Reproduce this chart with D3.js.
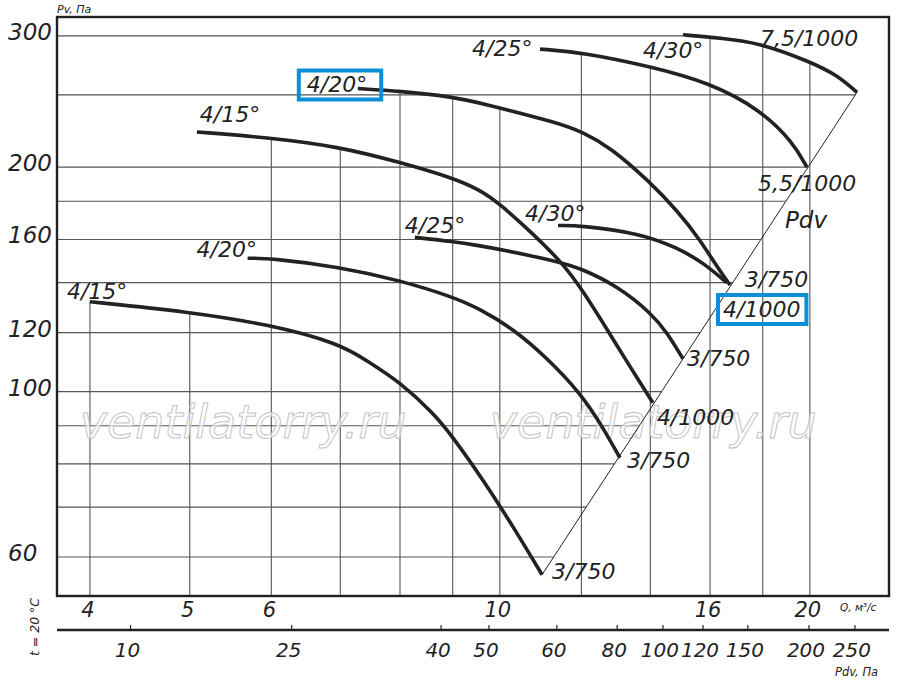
<!DOCTYPE html>
<html>
<head>
<meta charset="utf-8">
<script src="https://cdn.jsdelivr.net/npm/d3@7/dist/d3.min.js"></script>
<style>
body { margin: 0; background: #fff; }
text { font-family: 'DejaVu Sans', sans-serif; font-style: italic; fill: #222; }
</style>
</head>
<body>
<div class="canvas"></div>
<script>
// curve names (impeller / blade angle) and motor (kW / rpm)
const curveNames = ['4/15°', '4/20°', '4/25°', '4/30°', '4/15°', '4/20°', '4/25°', '4/30°']
const motors = ['3/750', '3/750', '3/750', '3/750', '4/1000', '4/1000', '5,5/1000', '7,5/1000']

// Q, m3/s of each curve
const curveQ = [
    [4.00, 4.98, 5.98, 6.99, 7.43, 8.00, 8.61, 9.00, 9.63, 10.39, 10.99],
    [5.69, 5.98, 6.99, 8.00, 9.00, 9.56, 10.30, 11.11, 11.96, 12.51, 13.08],
    [8.27, 9.00, 9.56, 10.0, 11.44, 12.01, 12.99, 14.05, 14.53, 15.06],
    [11.39, 12.01, 13.68, 14.86, 15.75, 16.61],
    [5.08, 5.98, 6.99, 8.00, 9.00, 9.56, 10.0, 10.77, 11.49, 12.01, 12.91, 13.38, 14.08],
    [7.28, 8.00, 9.00, 9.56, 11.44, 12.01, 12.79, 13.99, 14.86, 15.64, 16.25, 16.73],
    [10.94, 12.04, 13.99, 16.0, 17.89, 19.26, 19.87],
    [15.06, 16.36, 17.89, 20.0, 21.24, 22.22]
]
// Pv, Pa of each curve
const curveP = [
    [132, 128, 123, 116, 110, 103, 93.7, 87.0, 76.2, 64.7, 56.8],
    [151, 151, 147, 141, 134, 129.2, 121.4, 111, 99.7, 90.9, 81.5],
    [161, 159, 156.9, 155.2, 149.3, 146.1, 138.7, 127.2, 120.0, 110.7],
    [167, 167, 163, 156, 149, 140],
    [223, 219, 213, 203, 193.5, 186.5, 178.6, 162.8, 149, 137.4, 117, 108, 96.6],
    [255, 253, 248.5, 244, 229, 223, 213, 191, 175, 160, 147, 139],
    [288, 285, 273, 259.5, 239, 216, 200],
    [301, 298, 293.6, 277, 266, 252]
]

const qTicks = [4, 5, 6, 10, 16, 20]
const qGrid = [4, 5, 6, 7, 8, 9, 10, 12, 14, 16, 18, 20]
const pTicks = [60, 100, 120, 160, 200, 300]
const pGrid = [60, 70, 80, 90, 100, 120, 140, 160, 180, 200, 250, 300]
const pdvTicks = [10, 25, 40, 50, 60, 80, 100, 120, 150, 200, 250]
// Q value at which each Pdv tick sits on the second scale
const pdvAtQ = [4.38, 6.28, 8.77, 9.76, 11.36, 13.0, 14.4, 15.75, 17.41, 19.96, 22.12]
const boxedCurve = 5
const watermark = 'ventilatorry.ru'

const W = 900, H = 684
const margins = { top: 17, right: 11, bottom: 88, left: 57 }
const gWidth = W - margins.left - margins.right
const gHeight = H - margins.top - margins.bottom

const svg = d3.select('.canvas').append('svg').attr('width', W).attr('height', H)
const graph = svg.append('g').attr('transform', `translate(${margins.left}, ${margins.top})`)

const x = d3.scaleLog().domain([3.716, 23.87]).range([0, gWidth])
const y = d3.scaleLog().domain([53.2, 318]).range([gHeight, 0])

const curves = curveQ.map((qs, i) => qs.map((q, j) => ({ q: q, p: curveP[i][j] })))

// Pdv line joins the ends of the lowest and highest curves
const dA = curves[0][curves[0].length - 1]
const dB = curves[7][curves[7].length - 1]
const diagQ = p => Math.exp(Math.log(dA.q) + (Math.log(p) - Math.log(dA.p)) * (Math.log(dB.q) - Math.log(dA.q)) / (Math.log(dB.p) - Math.log(dA.p)))

// top of all curves at a given Q
function envelope(q) {
    let best = null
    curves.forEach(c => {
        if (q < c[0].q - 1e-6 || q > c[c.length - 1].q) return
        for (let j = 0; j < c.length - 1; j++) {
            if (q >= c[j].q - 1e-6 && q <= c[j + 1].q) {
                const t = (Math.log(q) - Math.log(c[j].q)) / (Math.log(c[j + 1].q) - Math.log(c[j].q))
                const p = Math.exp(Math.log(c[j].p) + t * (Math.log(c[j + 1].p) - Math.log(c[j].p)))
                if (best === null || p > best) best = p
                break
            }
        }
    })
    return best
}

// grid
graph.append('g').selectAll('line').data(pGrid).enter().append('line')
    .attr('x1', 0)
    .attr('x2', d => d <= dB.p ? x(diagQ(d)) : x(curves[7][0].q))
    .attr('y1', d => y(d)).attr('y2', d => y(d))
    .attr('stroke', '#555').attr('stroke-width', 1.1)

graph.append('g').selectAll('line').data(qGrid).enter().append('line')
    .attr('x1', d => x(d)).attr('x2', d => x(d))
    .attr('y1', gHeight)
    .attr('y2', d => envelope(d) ? y(envelope(d)) : 0)
    .attr('stroke', '#555').attr('stroke-width', 1.1)

// watermark
graph.append('g').selectAll('text').data([3.91, 9.78]).enter().append('text')
    .attr('x', d => x(d))
    .attr('y', y(88) + 5)
    .attr('font-size', 46)
    .style('fill', '#fff').style('fill-opacity', 0.6)
    .attr('stroke', '#c4c4c4').attr('stroke-width', 1)
    .text(watermark)

// Pdv diagonal
graph.append('line')
    .attr('x1', x(dA.q)).attr('y1', y(dA.p))
    .attr('x2', x(dB.q)).attr('y2', y(dB.p))
    .attr('stroke', '#222').attr('stroke-width', 1)

// curves
const line = d3.line().x(d => x(d.q)).y(d => y(d.p)).curve(d3.curveBasis)
graph.append('g').selectAll('path').data(curves).enter().append('path')
    .attr('d', line)
    .attr('fill', 'none')
    .attr('stroke', '#222')
    .attr('stroke-width', 3.6)
    .attr('stroke-linecap', 'butt')

// frame
graph.append('rect').attr('width', gWidth).attr('height', gHeight)
    .attr('fill', 'none').attr('stroke', '#222').attr('stroke-width', 2.4)

// curve labels
const nameOffset = [[-23, -3], [-51, -1], [-10, -4], [-33, -5], [3, -10], [-51, 4], [-68, 7], [-40, 23]]
const motorOffset = [[10, 4], [7, 10], [4, 7], [18, 4], [4, 22], [-7, 32], [-49, 24], [-97, -46]]

const names = graph.append('g').selectAll('text').data(curves).enter().append('text')
    .attr('x', (d, i) => x(d[0].q) + nameOffset[i][0])
    .attr('y', (d, i) => y(d[0].p) + nameOffset[i][1])
    .attr('font-size', 22)
    .text((d, i) => curveNames[i])

const motorLabels = graph.append('g').selectAll('text').data(curves).enter().append('text')
    .attr('x', (d, i) => x(d[d.length - 1].q) + motorOffset[i][0])
    .attr('y', (d, i) => y(d[d.length - 1].p) + motorOffset[i][1])
    .attr('font-size', 22)
    .text((d, i) => motors[i])

graph.append('text')
    .attr('x', x(dB.q) - 72).attr('y', y(dB.p) + 136)
    .attr('font-size', 23)
    .text('Pdv')

// blue boxes
const boxPad = [[8, 14], [5, 6]]
;[names, motorLabels].forEach((sel, k) => {
    const b = sel.filter((d, i) => i === boxedCurve).node().getBBox()
    graph.append('rect')
        .attr('x', b.x - boxPad[k][0]).attr('y', b.y - 2)
        .attr('width', b.width + boxPad[k][0] + boxPad[k][1]).attr('height', b.height + 4)
        .attr('fill', 'none').attr('stroke', '#0a8fd8').attr('stroke-width', 4)
})

// y tick labels
graph.append('g').selectAll('text').data(pTicks).enter().append('text')
    .attr('x', -49).attr('y', d => y(d) + 4)
    .attr('font-size', 23)
    .text(d => d)

// Q tick labels
graph.append('g').selectAll('text').data(qTicks).enter().append('text')
    .attr('x', d => x(d) - 2).attr('y', gHeight + 21)
    .attr('text-anchor', 'middle')
    .attr('font-size', 21)
    .text(d => d)

// Pdv axis
const pdvAxis = graph.append('g').attr('transform', `translate(0, ${gHeight + 34})`)
pdvAxis.append('line').attr('x1', 0).attr('x2', gWidth).attr('stroke', '#222').attr('stroke-width', 2.4)
pdvAxis.selectAll('.tick').data(pdvTicks).enter().append('line')
    .attr('x1', (d, i) => x(pdvAtQ[i])).attr('x2', (d, i) => x(pdvAtQ[i]))
    .attr('y1', -5).attr('y2', 0)
    .attr('stroke', '#222').attr('stroke-width', 1.2)
pdvAxis.selectAll('text').data(pdvTicks).enter().append('text')
    .attr('x', (d, i) => x(pdvAtQ[i]) - 3).attr('y', 27)
    .attr('text-anchor', 'middle')
    .attr('font-size', 20)
    .text(d => d)

// axis titles
svg.append('text').attr('x', 57).attr('y', 13).attr('font-size', 11).text('Pv, Па')
svg.append('text').attr('x', 840).attr('y', 611).attr('font-size', 10.5).text('Q, м³/с')
svg.append('text').attr('x', 835).attr('y', 676).attr('font-size', 11.5).text('Pdv, Па')
svg.append('text').attr('transform', 'translate(39, 627) rotate(-90)')
    .attr('text-anchor', 'middle').attr('font-size', 12.5).text('t = 20 °C')
</script>
</body>
</html>
